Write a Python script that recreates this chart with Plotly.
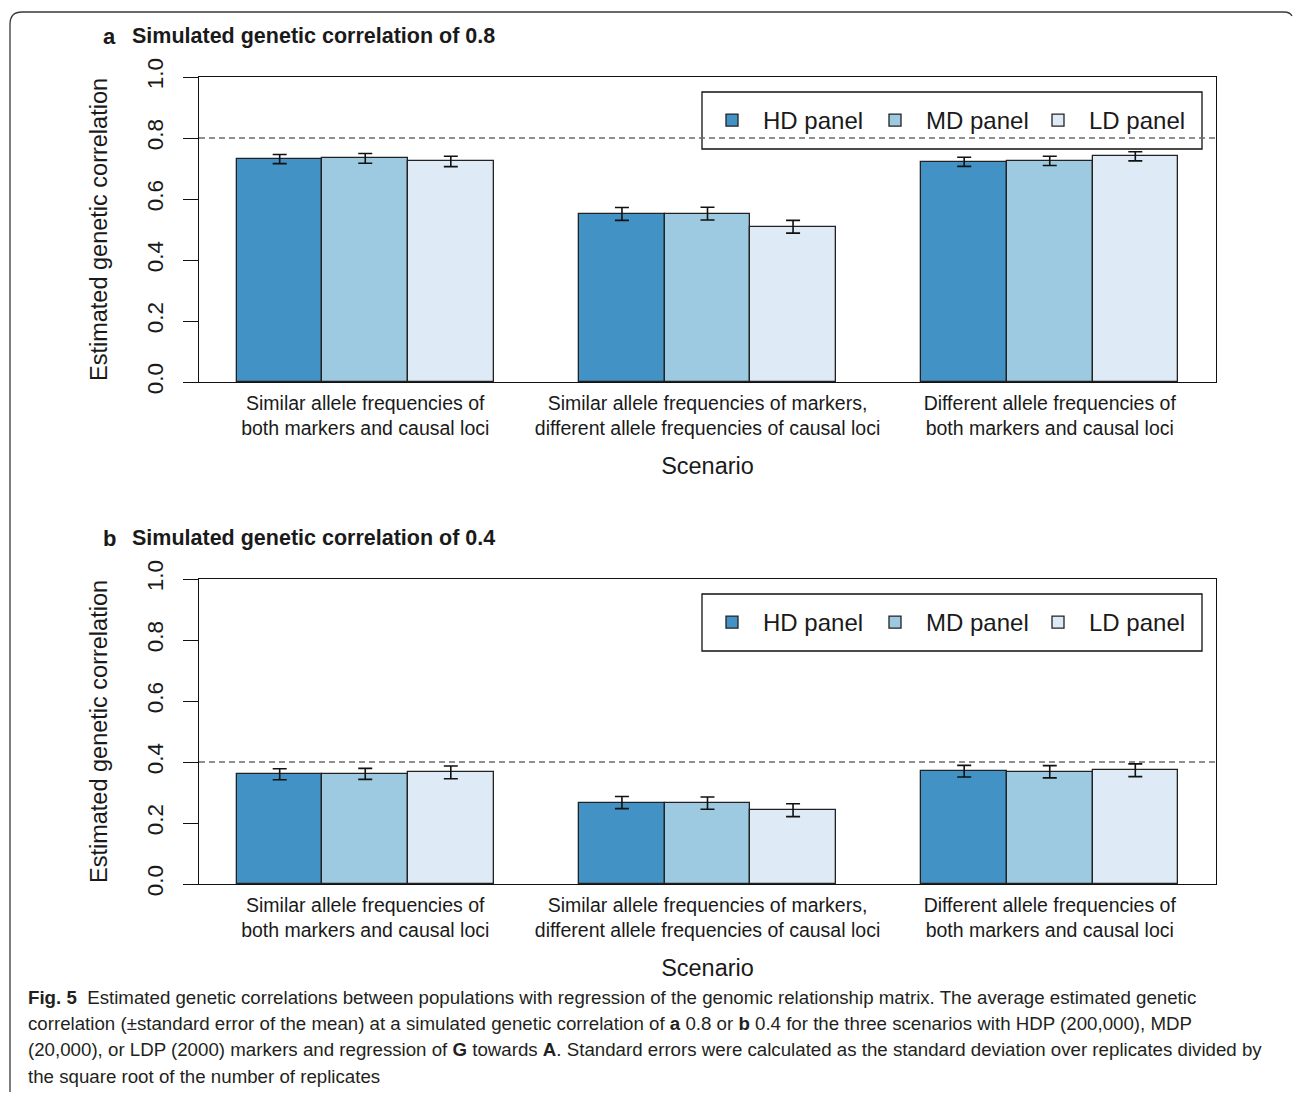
import plotly.graph_objects as go

W, H = 1293, 1094

scenarios = [
    "Similar allele frequencies of<br>both markers and causal loci",
    "Similar allele frequencies of markers,<br>different allele frequencies of causal loci",
    "Different allele frequencies of<br>both markers and causal loci",
]
panels = ["HD panel", "MD panel", "LD panel"]
colors = ["#4292c6", "#9ecae1", "#deebf7"]

# mean estimated genetic correlation and standard error, simulated rg = 0.8
hd_08 = [0.731, 0.551, 0.722]
hd_08_se = [0.015, 0.021, 0.015]
md_08 = [0.733, 0.552, 0.725]
md_08_se = [0.016, 0.021, 0.015]
ld_08 = [0.723, 0.509, 0.740]
ld_08_se = [0.017, 0.021, 0.015]

# simulated rg = 0.4
hd_04 = [0.360, 0.267, 0.370]
hd_04_se = [0.018, 0.020, 0.019]
md_04 = [0.361, 0.265, 0.368]
md_04_se = [0.018, 0.020, 0.020]
ld_04 = [0.366, 0.242, 0.373]
ld_04_se = [0.021, 0.021, 0.021]

simulated = [0.8, 0.4]
panel_titles = ["Simulated genetic correlation of 0.8", "Simulated genetic correlation of 0.4"]
panel_letters = ["a", "b"]
y_ticks = [0.0, 0.2, 0.4, 0.6, 0.8, 1.0]

caption_lines = [
    "<b>Fig. 5</b>  Estimated genetic correlations between populations with regression of the genomic relationship matrix. The average estimated genetic",
    "correlation (\u00b1standard error of the mean) at a simulated genetic correlation of <b>a</b> 0.8 or <b>b</b> 0.4 for the three scenarios with HDP (200,000), MDP",
    "(20,000), or LDP (2000) markers and regression of <b>G</b> towards <b>A</b>. Standard errors were calculated as the standard deviation over replicates divided by",
    "the square root of the number of replicates",
]

means = [[hd_08, md_08, ld_08], [hd_04, md_04, ld_04]]
ses = [[hd_08_se, md_08_se, ld_08_se], [hd_04_se, md_04_se, ld_04_se]]


def px(x):
    return x / W


def py(y):
    return 1 - y / H


# pixel boxes of the two plot regions: (left, top, right, bottom)
boxes = [(199, 77, 1216, 382), (199, 579, 1216, 884)]
legend_tops = [92, 594]

FONT = "Liberation Sans, Arial, sans-serif"
INK = "#1a1a1a"

fig = go.Figure()

for p in range(2):
    xa = "x" if p == 0 else "x2"
    ya = "y" if p == 0 else "y2"
    lg = "legend" if p == 0 else "legend2"
    for k in range(3):
        xs = [4 * g + k + 0.5 for g in range(3)]
        fig.add_trace(go.Bar(
            x=xs, y=means[p][k], width=1.0, name=panels[k],
            marker=dict(color=colors[k], line=dict(color="#222222", width=1.3)),
            error_y=dict(type="data", array=ses[p][k], color="#111111",
                         thickness=1.6, width=7),
            xaxis=xa, yaxis=ya, legend=lg, showlegend=True,
        ))

layout = dict(
    template="none",
    width=W, height=H, autosize=False,
    margin=dict(l=0, r=0, t=0, b=0, autoexpand=False),
    paper_bgcolor="white", plot_bgcolor="white",
    font=dict(family=FONT, color=INK),
    bargap=0, barmode="overlay",
    shapes=[], annotations=[],
)

for p in range(2):
    l, t, r, b = boxes[p]
    sfx = "" if p == 0 else "2"
    layout["xaxis" + sfx] = dict(
        domain=[px(l), px(r)], anchor="y" + sfx, automargin=False,
        range=[-0.443, 11.443], tickvals=[1.5, 5.5, 9.5], ticktext=scenarios,
        ticks="", ticklabelstandoff=3, showgrid=False, zeroline=False,
        showline=True, linecolor="#111111", linewidth=1.3, mirror=True,
        tickfont=dict(size=19.5, color=INK),
        title=dict(text="Scenario", font=dict(size=23.5, color=INK), standoff=19),
    )
    layout["yaxis" + sfx] = dict(
        domain=[py(b), py(t)], anchor="x" + sfx, automargin=False,
        range=[0, 1], tickvals=y_ticks, ticktext=[f"{v:.1f}" for v in y_ticks],
        tickangle=-90, ticks="outside", ticklen=15, tickwidth=1.3, tickcolor="#111111",
        ticklabelstandoff=11,
        showgrid=False, zeroline=False,
        showline=True, linecolor="#111111", linewidth=1.3, mirror=True,
        tickfont=dict(size=22.5, color=INK),
        title=dict(text="Estimated genetic correlation", font=dict(size=23.5, color=INK), standoff=28),
    )
    layout["legend" + ("" if p == 0 else "2")] = dict(
        orientation="h", x=px(701), y=py(legend_tops[p] + 6), xanchor="left", yanchor="top",
        bgcolor="rgba(0,0,0,0)", borderwidth=0,
        font=dict(size=24, color=INK), itemwidth=52, entrywidth=96, entrywidthmode="pixels",
        traceorder="normal",
    )
    # legend frame
    layout["shapes"].append(dict(
        type="rect", xref="paper", yref="paper",
        x0=px(702), x1=px(1202), y0=py(legend_tops[p]), y1=py(legend_tops[p] + 57),
        line=dict(color="#111111", width=1.3), layer="above",
    ))
    # reference line at the simulated correlation
    layout["shapes"].append(dict(
        type="line", xref="x" + sfx + " domain", yref="y" + sfx,
        x0=0, x1=1, y0=simulated[p], y1=simulated[p],
        line=dict(color="#6b6b6b", width=1.3, dash="6px,4px"), layer="above",
    ))
    # panel letter and heading
    layout["annotations"].append(dict(
        text="<b>" + panel_letters[p] + "</b>", xref="paper", yref="paper",
        x=px(101), y=py(t - 41), xanchor="left", yanchor="middle", showarrow=False,
        font=dict(size=22, color=INK),
    ))
    layout["annotations"].append(dict(
        text="<b>" + panel_titles[p] + "</b>", xref="paper", yref="paper",
        x=px(130), y=py(t - 41), xanchor="left", yanchor="middle", showarrow=False,
        font=dict(size=21.5, color=INK),
    ))

# figure caption
for i, line in enumerate(caption_lines):
    layout["annotations"].append(dict(
        text=line, xref="paper", yref="paper",
        x=px(26), y=py(997 + i * 26.4), xanchor="left", yanchor="middle", showarrow=False,
        font=dict(family=FONT, size=18.7, color="#231f20"),
    ))

# rounded page frame
frame = (f"M {px(10)},{py(1092)} L {px(10)},{py(24)} "
         f"Q {px(10)},{py(12)} {px(22)},{py(12)} L {px(1284)},{py(12)} "
         f"Q {px(1290)},{py(12)} {px(1292)},{py(16)}")
layout["shapes"].append(dict(
    type="path", xref="paper", yref="paper", path=frame,
    line=dict(color="#3a3a3a", width=1.3), layer="above",
))

fig.update_layout(**layout)
fig.write_html("out.html")
